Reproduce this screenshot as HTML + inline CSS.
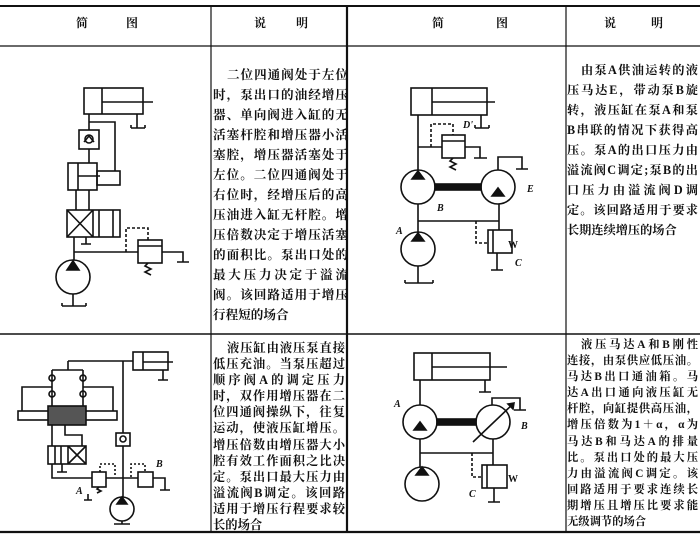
<!DOCTYPE html>
<html><head><meta charset="utf-8">
<style>
body{margin:0;background:#fff;}
#w{position:relative;width:700px;height:538px;overflow:hidden;background:#fff;font-family:"Liberation Serif","Noto Serif CJK SC","Noto Sans CJK SC",serif;color:#111;}
svg{position:absolute;left:0;top:0;}
.t{position:absolute;font-weight:bold;}
.t div{height:20px;line-height:20px;text-align:justify;text-align-last:justify;white-space:nowrap;overflow:visible;}
.t div.l{text-align-last:left;}
.s div{height:16.1px;line-height:16.1px;}
.h{position:absolute;top:14px;font-size:12px;font-weight:bold;}
</style></head><body><div id="w">
<svg width="700" height="538" viewBox="0 0 700 538" fill="none" stroke="#111" stroke-width="1.6">
<line x1="0" y1="6" x2="700" y2="6" stroke-width="2"/>
<line x1="0" y1="46" x2="700" y2="46" stroke-width="1.3"/>
<line x1="0" y1="334" x2="700" y2="334" stroke-width="1.5"/>
<line x1="0" y1="532" x2="700" y2="532" stroke-width="2.2"/>
<line x1="211" y1="6" x2="211" y2="532" stroke-width="1.2"/>
<line x1="347" y1="6" x2="347" y2="532" stroke-width="2.2"/>
<line x1="566" y1="6" x2="566" y2="532" stroke-width="1.2"/>

<rect x="84" y="88" width="59" height="26"/><line x1="102" y1="88" x2="102" y2="114"/><line x1="102" y1="102" x2="153" y2="102"/>
<path d="M137 114V128M131 128H145M131 128v-3M145 128v-3"/>
<path d="M89 114V130M89 122H115V171"/>
<rect x="79" y="130" width="20" height="19"/><circle cx="89" cy="139" r="4"/><path d="M84 142L89 136L94 142"/>
<path d="M89 149V163"/>
<rect x="68" y="163" width="29" height="27"/><rect x="97" y="171" width="23" height="14"/><path d="M78 163V190M78 176H100"/>
<path d="M76 190V210M89 190V210"/>
<rect x="67" y="210" width="53" height="27"/><line x1="93" y1="210" x2="93" y2="237"/><path d="M67 210L93 237M93 210L67 237M99 210V237M113 210V237"/>
<path d="M86 237V244M81 244H91"/>
<path d="M74 237V260M74 252H138"/>
<path d="M126 252V228H148V240" stroke-dasharray="3 2"/>
<rect x="138" y="240" width="24" height="23"/><line x1="138" y1="246" x2="162" y2="246"/>
<path d="M162 252H183V262M177 262H189M148 263l-3 3 6 3-6 3 6 3"/>
<circle cx="73" cy="277" r="17"/><path d="M73 261L67 270H79Z" fill="#111"/>
<path d="M73 294V306M62 306H86M62 306v-3M86 306v-3"/>

<rect x="411" y="88" width="76" height="27"/><line x1="432" y1="88" x2="432" y2="115"/><line x1="432" y1="102" x2="495" y2="102"/>
<path d="M481 115V128M475 128H489M475 128v-3M489 128v-3"/>
<path d="M418 115V170M418 147H442"/>
<path d="M431 147V124H453V135" stroke-dasharray="3 2"/>
<rect x="442" y="135" width="23" height="23"/><line x1="442" y1="141" x2="465" y2="141"/>
<path d="M465 147H480V158M474 158H487M453 158l-3 3 6 3-6 3 6 3"/>
<circle cx="418" cy="187" r="17"/><path d="M418 171L412 179H424Z" fill="#111"/>
<circle cx="498" cy="187" r="17"/><path d="M498 188L492 196H504Z" fill="#111"/>
<rect x="435" y="184" width="46" height="6" fill="#111"/>
<path d="M498 170V157H522V169M516 169H528"/>
<path d="M418 204V233M418 221H499V204M499 221V230"/>
<path d="M476 221V243H488" stroke-dasharray="3 2"/>
<rect x="488" y="230" width="24" height="23"/><line x1="493" y1="230" x2="493" y2="253"/>
<path d="M497 253V270M491 270H503"/>
<circle cx="418" cy="249" r="17"/><path d="M418 233L412 241H424Z" fill="#111"/>
<path d="M418 266V283M405 283H433M405 283v-3M433 283v-3"/>

<rect x="133" y="352" width="35" height="18"/><line x1="143" y1="352" x2="143" y2="370"/><line x1="143" y1="362" x2="173" y2="362"/>
<path d="M163 370V380M158 380H168"/>
<path d="M68 361H133M123 361V497M68 361V370M52 370H83"/>
<path d="M52 370V406M83 370V406M22 411V387H52M113 411V387H83"/>
<circle cx="52" cy="378" r="3"/><circle cx="83" cy="378" r="3"/><circle cx="52" cy="394" r="3"/><circle cx="83" cy="394" r="3"/>
<rect x="18" y="411" width="99" height="9"/><rect x="48" y="406" width="38" height="19" fill="#555"/>
<path d="M52 425V446M65 425V435H82V446"/>
<rect x="48" y="446" width="38" height="18"/><path d="M68 446V464M68 446L86 464M86 446L68 464M55 446V464M61 446V464"/>
<path d="M62 464V472M57 472H67M52 464V478H138"/>
<rect x="116" y="433" width="14" height="13" fill="#fff"/><circle cx="123" cy="439" r="3"/>
<path d="M100 472V464H115V476M131 477V464H145V472" stroke-dasharray="2 2"/>
<rect x="92" y="472" width="14" height="15" fill="#fff"/><rect x="138" y="472" width="15" height="15" fill="#fff"/>
<path d="M153 478H165V490M160 490H170M99 487l-2 2 4 2-4 2M88 500V494M84 500H92"/>
<circle cx="122" cy="509" r="12"/><path d="M122 497L117 504H127Z" fill="#111"/>
<path d="M122 521V524M114 524H130"/>

<rect x="414" y="353" width="76" height="27"/><line x1="432" y1="353" x2="432" y2="380"/><line x1="432" y1="367" x2="507" y2="367"/>
<path d="M485 380V392M479 392H491"/>
<path d="M420 380V405"/>
<circle cx="420" cy="422" r="17"/><path d="M420 422L414 430H426Z" fill="#111"/>
<circle cx="493" cy="422" r="17"/><path d="M473 442L514 403"/><path d="M514 403l-6 1 5 5z" fill="#111"/>
<rect x="437" y="419" width="39" height="6" fill="#111"/>
<path d="M492 405V398H520V410M514 410H526"/>
<path d="M420 439V467M420 453H493V439M493 453V465"/>
<path d="M472 453V477H482" stroke-dasharray="3 2"/>
<rect x="482" y="465" width="25" height="23"/><line x1="487" y1="465" x2="487" y2="488"/>
<path d="M494 488V502M488 502H500"/>
<circle cx="422" cy="484" r="17"/><path d="M422 467L416 475H428Z" fill="#111"/>
<g fill="#111" stroke="none" font-family="Liberation Serif,serif" font-style="italic" font-weight="bold" font-size="10">
<text x="396" y="234">A</text><text x="437" y="211">B</text><text x="527" y="192">E</text><text x="463" y="128">D'</text><text x="515" y="266">C</text><text x="508" y="248" font-style="normal">W</text>
<text x="76" y="494">A</text><text x="156" y="467">B</text>
<text x="394" y="407">A</text><text x="521" y="429">B</text><text x="469" y="497">C</text><text x="508" y="482" font-style="normal">W</text>
</g>
</svg>
<div class="h" style="left:76px">简</div><div class="h" style="left:126px">图</div>
<div class="h" style="left:254px">说</div><div class="h" style="left:296px">明</div>
<div class="h" style="left:432px">简</div><div class="h" style="left:496px">图</div>
<div class="h" style="left:604px">说</div><div class="h" style="left:651px">明</div>

<div class="t" style="left:213px;top:65px;width:135px;font-size:12.6px">
<div style="padding-left:14px">二位四通阀处于左位</div><div>时，泵出口的油经增压</div><div>器、单向阀进入缸的无</div><div>活塞杆腔和增压器小活</div><div>塞腔，增压器活塞处于</div><div>左位。二位四通阀处于</div><div>右位时，经增压后的高</div><div>压油进入缸无杆腔。增</div><div>压倍数决定于增压活塞</div><div>的面积比。泵出口处的</div><div>最大压力决定于溢流</div><div>阀。该回路适用于增压</div><div class="l">行程短的场合</div>
</div>
<div class="t" style="left:567px;top:60px;width:131px;font-size:12.2px">
<div style="padding-left:14px">由泵A供油运转的液</div><div>压马达E，带动泵B旋</div><div>转，液压缸在泵A和泵</div><div>B串联的情况下获得高</div><div>压。泵A的出口压力由</div><div>溢流阀C调定;泵B的出</div><div>口压力由溢流阀D调</div><div>定。该回路适用于要求</div><div class="l">长期连续增压的场合</div>
</div>
<div class="t s" style="left:213px;top:340px;width:132px;font-size:12.3px">
<div style="padding-left:14px">液压缸由液压泵直接</div><div>低压充油。当泵压超过</div><div>顺序阀A的调定压力</div><div>时，双作用增压器在二</div><div>位四通阀操纵下，往复</div><div>运动，使液压缸增压。</div><div>增压倍数由增压器大小</div><div>腔有效工作面积之比决</div><div>定。泵出口最大压力由</div><div>溢流阀B调定。该回路</div><div>适用于增压行程要求较</div><div class="l">长的场合</div>
</div>
<div class="t s" style="left:567px;top:337px;width:131px;font-size:11.3px">
<div style="padding-left:14px">液压马达A和B刚性</div><div>连接，由泵供应低压油。</div><div>马达B出口通油箱。马</div><div>达A出口通向液压缸无</div><div>杆腔，向缸提供高压油，</div><div>增压倍数为1＋α，α为</div><div>马达B和马达A的排量</div><div>比。泵出口处的最大压</div><div>力由溢流阀C调定。该</div><div>回路适用于要求连续长</div><div>期增压且增压比要求能</div><div class="l">无级调节的场合</div>
</div>
</div></body></html>
